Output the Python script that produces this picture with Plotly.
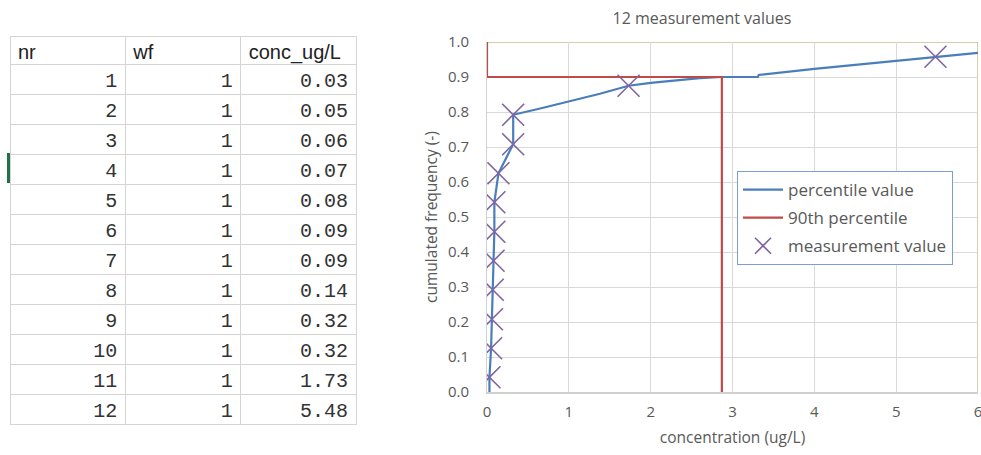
import plotly.graph_objects as go

# ---- table data ----
col_headers = ["nr", "wf", "conc_ug/L"]
nr = [1, 2, 3, 4, 5, 6, 7, 8, 9, 10, 11, 12]
wf = [1, 1, 1, 1, 1, 1, 1, 1, 1, 1, 1, 1]
conc = [0.03, 0.05, 0.06, 0.07, 0.08, 0.09, 0.09, 0.14, 0.32, 0.32, 1.73, 5.48]

# ---- chart data ----
meas_freq = [0.042, 0.125, 0.208, 0.292, 0.375, 0.458, 0.542, 0.625, 0.708, 0.792, 0.875, 0.958]
perc_conc = [0.03, 0.03, 0.05, 0.06, 0.07, 0.08, 0.09, 0.09, 0.14, 0.32, 0.32, 0.65, 1.14,
             1.38, 1.73, 2.0, 2.6, 2.87, 3.31, 3.32, 4.0, 5.48, 6.0]
perc_freq = [0.0, 0.042, 0.125, 0.208, 0.292, 0.375, 0.458, 0.542, 0.625, 0.708, 0.792, 0.81,
             0.838, 0.852, 0.875, 0.883, 0.897, 0.9, 0.9, 0.906, 0.923, 0.958, 0.969]
p90_conc = [0, 0, 2.87, 2.87]
p90_freq = [1.0, 0.9, 0.9, 0.0]

x_ticks = [0, 1, 2, 3, 4, 5, 6]
y_ticks = [0.0, 0.1, 0.2, 0.3, 0.4, 0.5, 0.6, 0.7, 0.8, 0.9, 1.0]

GRAY = "#595959"
FONT = "Open Sans"

W, H = 981, 455


def px(x):
    return x / W


def py(y):
    return 1 - y / H


fig = go.Figure()

fig.add_trace(go.Table(
    domain=dict(x=[px(10), px(356)], y=[py(436), py(36)]),
    columnwidth=[1, 1, 1],
    header=dict(values=col_headers, align="left", height=28,
                fill_color="white", line=dict(color="#d4d4d4", width=1),
                font=dict(family="Liberation Sans", size=20, color="#222222")),
    cells=dict(values=[[str(v) for v in nr], [str(v) for v in wf], [f"{v:.2f}" for v in conc]],
               align="right", height=30,
               fill_color="white", line=dict(color="#d4d4d4", width=1),
               font=dict(family="Liberation Mono", size=20, color="#333333")),
))

fig.add_trace(go.Scatter(
    x=perc_conc, y=perc_freq, mode="lines", name="percentile value", legendgroup="a",
    line=dict(color="#4a7ebb", width=2.2)))
fig.add_trace(go.Scatter(
    x=p90_conc, y=p90_freq, mode="lines", name="90th percentile", legendgroup="b",
    line=dict(color="#be4b48", width=2.2)))
fig.add_trace(go.Scatter(
    x=conc, y=meas_freq, mode="markers", name="measurement value", legendgroup="c",
    marker=dict(symbol="x-thin-open", size=22, line=dict(color="#8064a2", width=1.6),
                color="#8064a2")))

fig.update_layout(
    width=W, height=H, margin=dict(l=0, r=0, t=0, b=0, autoexpand=False),
    paper_bgcolor="white", plot_bgcolor="white",
    font=dict(family=FONT, color=GRAY, size=15),
    title=dict(text="12 measurement values", x=px(702), xanchor="center",
               y=py(18), yanchor="middle", font=dict(size=16, color=GRAY)),
    xaxis=dict(domain=[px(487), px(978)], range=[0, 6], tickvals=x_ticks,
               automargin=False, ticklabeloverflow="allow",
               showgrid=True, gridcolor="#d9d9d9", gridwidth=1, zeroline=False,
               showline=True, linecolor="#d0d0d0", linewidth=2,
               ticklabelstandoff=5, tickfont=dict(size=15),
               title=dict(text="concentration (ug/L)", standoff=12, font=dict(size=15.5))),
    yaxis=dict(domain=[py(392), py(42)], range=[0, 1.0], tickvals=y_ticks,
               tickformat=".1f", automargin=False,
               showgrid=True, gridcolor="#d9d9d9", gridwidth=1, zeroline=False,
               showline=True, linecolor="#d0d0d0", linewidth=1,
               ticklabelstandoff=14, tickfont=dict(size=15),
               title=dict(text="cumulated frequency (-)", standoff=6, font=dict(size=15.5))),
    legend=dict(x=px(737), y=py(171), xanchor="left", yanchor="top",
                bgcolor="white", bordercolor="#7a9fd0", borderwidth=1,
                font=dict(size=17, color=GRAY), itemwidth=40, tracegroupgap=3),
    showlegend=True,
    shapes=[
        dict(type="line", xref="x", yref="y", x0=0, x1=6, y0=1.0, y1=1.0,
             line=dict(color="#c8bd8f", width=1.5), layer="below"),
        dict(type="line", xref="x", yref="y", x0=6, x1=6, y0=0, y1=1.0,
             line=dict(color="#c8bd8f", width=1.5), layer="below"),
        dict(type="rect", xref="paper", yref="paper", x0=px(7), x1=px(10),
             y0=py(183), y1=py(153), line=dict(width=0), fillcolor="#217346"),
    ],
)

fig.write_html("out.html", config={"displayModeBar": False},
               post_script="document.body.style.margin='0';document.body.style.overflow='hidden';")
